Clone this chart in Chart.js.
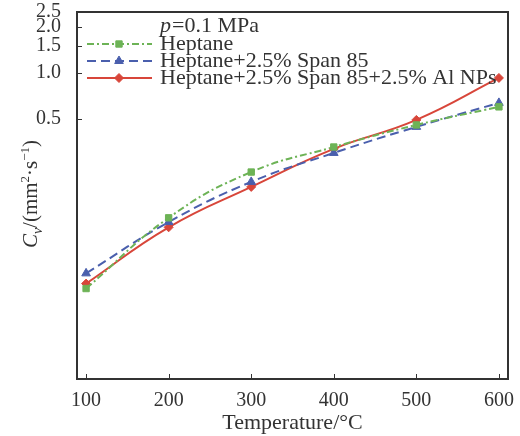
<!DOCTYPE html>
<html><head><meta charset="utf-8">
<script src="https://cdn.jsdelivr.net/npm/chart.js@4"></script>
<style>html,body{margin:0;padding:0;background:#fff}</style>
</head><body>
<canvas id="c" width="520" height="436"></canvas>
<script>
const temperatures = [100, 200, 300, 400, 500, 600];
const heptane = [0.039, 0.113, 0.225, 0.328, 0.457, 0.600];
const heptaneSpan = [0.049, 0.106, 0.194, 0.300, 0.444, 0.637];
const heptaneSpanAl = [0.042, 0.098, 0.180, 0.319, 0.493, 0.927];
const seriesLabels = ['Heptane', 'Heptane+2.5% Span 85', 'Heptane+2.5% Span 85+2.5% Al NPs'];
const yTickValues = [0.5, 1.0, 1.5, 2.0, 2.5];
const xTickValues = [100, 200, 300, 400, 500, 600];

const FONT = '"Liberation Serif", "Times New Roman", serif';
const TXT = '#333';
const GREEN = '#6db356', BLUE = '#4a5fad', RED = '#d8463a';

function pts(vals) { return temperatures.map((t, i) => ({x: t, y: vals[i]})); }

const datasets = [
  {label: seriesLabels[0], data: pts(heptane), borderColor: GREEN, backgroundColor: GREEN,
   borderDash: [7, 3, 2, 3], pointStyle: 'rect', pointRadius: 4.5, borderWidth: 2},
  {label: seriesLabels[1], data: pts(heptaneSpan), borderColor: BLUE, backgroundColor: BLUE,
   borderDash: [9, 5], pointStyle: 'triangle', pointRadius: 5, borderWidth: 2},
  {label: seriesLabels[2], data: pts(heptaneSpanAl), borderColor: RED, backgroundColor: RED,
   borderDash: [], pointStyle: 'rectRot', pointRadius: 4.5, borderWidth: 2}
];
datasets.forEach(d => { d.tension = 0.45; d.fill = false; d.pointBorderWidth = 1; });

const decor = {
  id: 'decor',
  afterDraw(chart) {
    const ctx = chart.ctx, a = chart.chartArea;
    const xs = chart.scales.x, ys = chart.scales.y;
    ctx.save();
    ctx.setLineDash([]);
    const L = Math.round(a.left), R = Math.round(a.right), T = Math.round(a.top), B = Math.round(a.bottom);
    ctx.fillStyle = '#333';
    ctx.fillRect(L - 1, T - 1, R - L + 2, 2);
    ctx.fillRect(L - 1, B - 1, R - L + 2, 2);
    ctx.fillRect(L - 1, T - 1, 2, B - T + 2);
    ctx.fillRect(R - 1, T - 1, 2, B - T + 2);
    ctx.strokeStyle = '#333';
    ctx.lineWidth = 1;
    ctx.beginPath();
    yTickValues.forEach(v => { const y = Math.round(ys.getPixelForValue(v)) + 0.5; ctx.moveTo(L, y); ctx.lineTo(L + 5, y); });
    xTickValues.forEach(v => { const x = Math.round(xs.getPixelForValue(v)) + 0.5; ctx.moveTo(x, B); ctx.lineTo(x, B - 5); });
    ctx.stroke();

    // x title
    ctx.fillStyle = TXT;
    ctx.font = '22px ' + FONT;
    ctx.textAlign = 'center';
    ctx.textBaseline = 'middle';
    ctx.fillText('Temperature/°C', (a.left + a.right) / 2, 423);

    // y title (rich text, rotated)
    const parts = [
      {t: 'C', f: 'italic 21px ' + FONT, dy: 0},
      {t: 'v', f: 'italic 14px ' + FONT, dy: 5},
      {t: '/(mm', f: '21px ' + FONT, dy: 0},
      {t: '2', f: '13px ' + FONT, dy: -8},
      {t: '·s', f: '21px ' + FONT, dy: 0},
      {t: '−1', f: '13px ' + FONT, dy: -8},
      {t: ')', f: '21px ' + FONT, dy: 0}
    ];
    let total = 0;
    parts.forEach(p => { ctx.font = p.f; p.w = ctx.measureText(p.t).width; total += p.w; });
    ctx.translate(30, 194);
    ctx.rotate(-Math.PI / 2);
    ctx.textAlign = 'left';
    ctx.textBaseline = 'alphabetic';
    let cx = -total / 2;
    parts.forEach(p => { ctx.font = p.f; ctx.fillText(p.t, cx, 7 + p.dy); cx += p.w; });
    ctx.setTransform(1, 0, 0, 1, 0, 0);

    // legend
    ctx.textAlign = 'left';
    ctx.textBaseline = 'middle';
    ctx.font = 'italic 22px ' + FONT;
    ctx.fillText('p', 160, 26);
    const pw = ctx.measureText('p').width;
    ctx.font = '22px ' + FONT;
    ctx.fillText('=0.1 MPa', 160 + pw + 1, 26);
    const rows = [44, 61, 78];
    chart.data.datasets.forEach((d, i) => {
      const y = rows[i];
      ctx.strokeStyle = d.borderColor;
      ctx.lineWidth = 2;
      ctx.setLineDash(d.borderDash || []);
      ctx.beginPath(); ctx.moveTo(87, y); ctx.lineTo(152, y); ctx.stroke();
      ctx.setLineDash([]);
      ctx.fillStyle = d.backgroundColor;
      ctx.strokeStyle = d.borderColor;
      ctx.lineWidth = 1;
      Chart.helpers.drawPoint(ctx, {pointStyle: d.pointStyle, radius: d.pointRadius, rotation: 0, borderWidth: 1}, 119, y);
      ctx.fillStyle = TXT;
      ctx.font = '22px ' + FONT;
      ctx.fillText(d.label, 160, y);
    });
    ctx.restore();
  }
};

new Chart(document.getElementById('c'), {
  type: 'line',
  data: {datasets},
  options: {
    responsive: false, animation: false, devicePixelRatio: 1,
    layout: {padding: {top: 12, right: 12, left: 0, bottom: 0}},
    plugins: {legend: {display: false}, tooltip: {enabled: false}},
    scales: {
      x: {
        type: 'linear', min: 89, max: 611,
        afterFit(s) { s.height = 57; s.paddingLeft = 0; s.paddingRight = 0; },
        afterBuildTicks(s) { s.ticks = xTickValues.map(v => ({value: v})); },
        grid: {display: false}, border: {display: false},
        ticks: {color: TXT, font: {family: FONT, size: 20}, padding: 2, maxRotation: 0, callback: v => String(v)}
      },
      y: {
        type: 'logarithmic', min: 0.01, max: 2.5,
        afterFit(s) { s.width = 77; s.paddingTop = 0; s.paddingBottom = 0; },
        afterBuildTicks(s) { s.ticks = yTickValues.map(v => ({value: v})); },
        grid: {display: false}, border: {display: false},
        ticks: {color: TXT, font: {family: FONT, size: 20}, padding: 8, callback: v => Number(v).toFixed(1)}
      }
    }
  },
  plugins: [decor]
});
</script>
</body></html>
